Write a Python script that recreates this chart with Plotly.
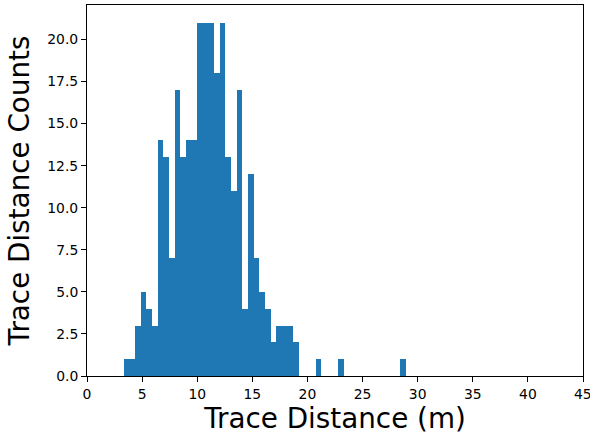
import numpy as np
import plotly.graph_objects as go

# Histogram data (50 equal-width bins)
bin_min = 3.35
bin_max = 28.93
counts = [1, 1, 3, 5, 4, 3, 14, 13, 7, 17,
          13, 14, 14, 21, 21, 21, 18, 21, 13, 11,
          17, 4, 12, 7, 5, 4, 2, 3, 3, 3,
          2, 0, 0, 0, 1, 0, 0, 0, 1, 0,
          0, 0, 0, 0, 0, 0, 0, 0, 0, 1]
x_ticks = [0, 5, 10, 15, 20, 25, 30, 35, 40, 45]
y_ticks = [0.0, 2.5, 5.0, 7.5, 10.0, 12.5, 15.0, 17.5, 20.0]

n = len(counts)
edges = np.linspace(bin_min, bin_max, n + 1)
centers = (edges[:-1] + edges[1:]) / 2
width = edges[1] - edges[0]

fig = go.Figure(go.Bar(
    x=centers, y=counts, width=width,
    marker=dict(color="#1f77b4", line=dict(width=0)),
))

tick_font = dict(family="DejaVu Sans", size=13.9, color="black")
axis_common = dict(
    showline=True, linecolor="black", linewidth=1, mirror=True,
    ticks="outside", ticklen=5, tickcolor="black", tickwidth=1,
    showgrid=False, zeroline=False, automargin=False,
    tickfont=tick_font,
)

fig.update_layout(
    width=590, height=435,
    margin=dict(l=87, r=7, t=5, b=59),
    paper_bgcolor="white", plot_bgcolor="white",
    bargap=0, showlegend=False,
    xaxis=dict(
        range=[0, 45], tickvals=x_ticks, ticktext=[str(t) for t in x_ticks],
        title=dict(text="Trace Distance (m)", font=dict(family="DejaVu Sans", size=27.8, color="black"), standoff=4),
        **axis_common,
    ),
    yaxis=dict(
        range=[0, 22.05], tickvals=y_ticks, ticktext=[f"{t:.1f}" for t in y_ticks],
        title=dict(text="Trace Distance Counts", font=dict(family="DejaVu Sans", size=27.8, color="black"), standoff=9),
        **axis_common,
    ),
)

# the last x tick label sits at the paper edge; plotly drops it, so draw it as text
last_tick = x_ticks[-1]
fig.add_annotation(x=last_tick, xref="x", y=0, yref="paper", yshift=-8,
                   text=str(last_tick), showarrow=False, xanchor="center", yanchor="top",
                   font=tick_font)

fig.write_html("out.html", config={"displayModeBar": False},
               post_script="document.body.style.margin='0';document.body.style.overflow='hidden';")
